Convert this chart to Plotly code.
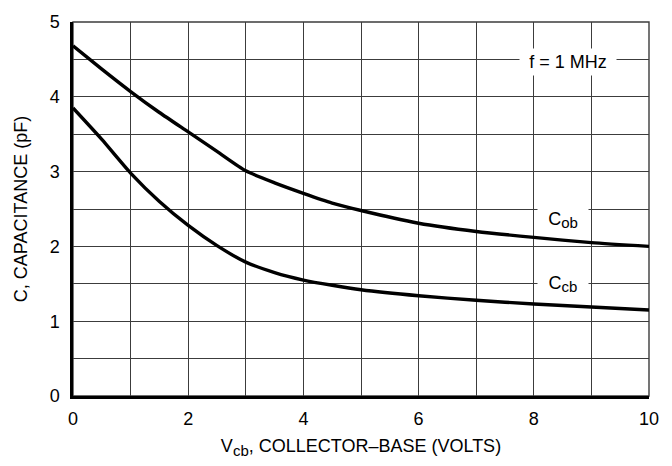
import plotly.graph_objects as go

vcb = [0, 0.5, 1, 1.5, 2, 2.5, 3, 3.5, 4, 4.5, 5, 6, 7, 8, 9, 10]
cob = [4.68, 4.37, 4.07, 3.79, 3.53, 3.27, 3.01, 2.85, 2.71, 2.58, 2.48, 2.31, 2.20, 2.12, 2.05, 2.00]
ccb = [3.85, 3.43, 2.98, 2.60, 2.28, 2.01, 1.79, 1.65, 1.55, 1.48, 1.42, 1.34, 1.28, 1.23, 1.19, 1.15]

x_ticks = [0, 2, 4, 6, 8, 10]
y_ticks = [0, 1, 2, 3, 4, 5]

FONT = "Liberation Sans, Arial, sans-serif"
GRID = "#3c3c3c"
SZ = 18

fig = go.Figure()
for name, ys in [("Cob", cob), ("Ccb", ccb)]:
    fig.add_trace(go.Scatter(x=vcb, y=ys, mode="lines", name=name,
                             line=dict(color="black", width=3.4, shape="spline", smoothing=0.6),
                             hoverinfo="skip", showlegend=False))

fig.update_layout(
    width=672, height=466,
    margin=dict(l=73, r=23, t=15, b=67),
    paper_bgcolor="white", plot_bgcolor="white",
    font=dict(family=FONT, color="black", size=SZ),
    xaxis=dict(range=[0, 10], tickvals=x_ticks, ticktext=[str(v) for v in x_ticks],
               showgrid=True, gridcolor=GRID, gridwidth=1.4,
               minor=dict(dtick=1, showgrid=True, gridcolor=GRID, gridwidth=1.4),
               showline=True, linecolor="black", linewidth=2.5,
               ticks="", ticklabelstandoff=5, zeroline=False,
               tickfont=dict(size=SZ, family=FONT),
               title=dict(text="V<sub><span style='font-size:15px'>cb</span></sub>, COLLECTOR\u2013BASE (VOLTS)",
                          font=dict(size=SZ, family=FONT), standoff=12)),
    yaxis=dict(range=[0, 5], tickvals=y_ticks, ticktext=[str(v) for v in y_ticks],
               showgrid=True, gridcolor=GRID, gridwidth=1.4,
               minor=dict(dtick=0.5, showgrid=True, gridcolor=GRID, gridwidth=1.4),
               showline=True, linecolor="black", linewidth=2.5,
               ticks="", ticklabelstandoff=7, zeroline=False,
               tickfont=dict(size=SZ, family=FONT),
               title=dict(text="C, CAPACITANCE (pF)",
                          font=dict(size=SZ, family=FONT), standoff=18)),
)

# outer frame (top/right)
fig.add_shape(type="rect", xref="paper", yref="paper", x0=0, y0=0, x1=1, y1=1,
              line=dict(color=GRID, width=1.4), layer="below")

ann_font = dict(size=SZ, family=FONT, color="black")
fig.add_annotation(x=8.6, y=4.46, text="f = 1 MHz", showarrow=False,
                   bgcolor="white", width=94, height=24, font=ann_font)
fig.add_annotation(x=8.5, y=2.35, text="C<sub><span style='font-size:15px'>ob</span></sub>",
                   showarrow=False, bgcolor="white", width=48, height=26, font=ann_font)
fig.add_annotation(x=8.5, y=1.5, text="C<sub><span style='font-size:15px'>cb</span></sub>",
                   showarrow=False, bgcolor="white", width=48, height=26, font=ann_font)

fig.write_html("out.html", post_script="document.body.style.margin='0';",
               config={"displayModeBar": False})
